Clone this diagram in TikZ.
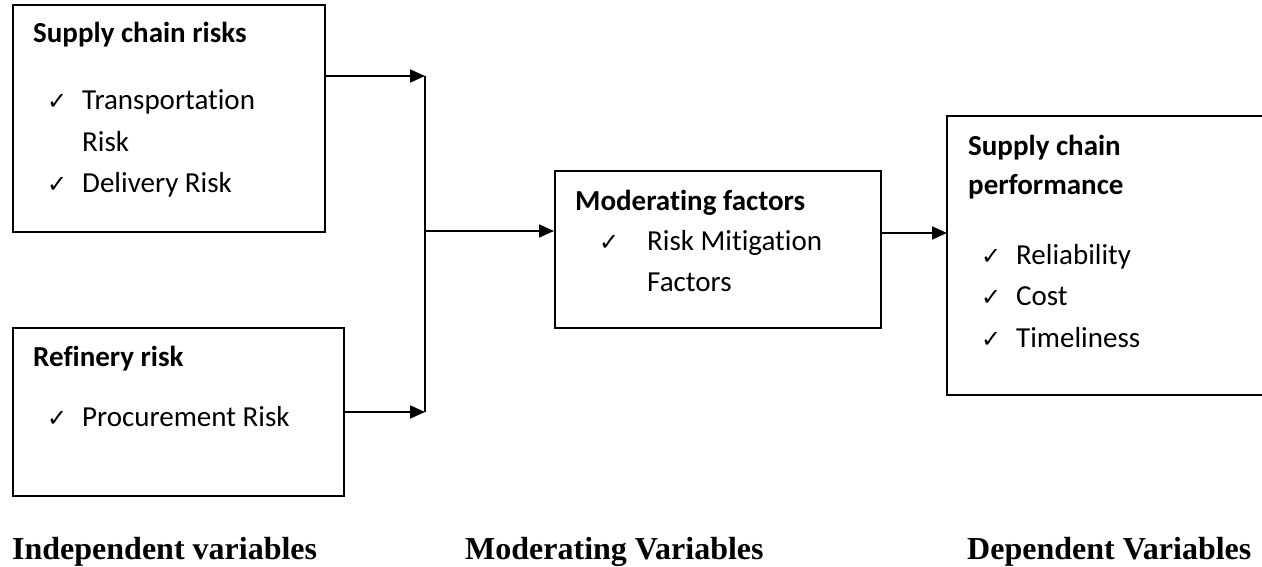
\documentclass[tikz,border=0pt]{standalone}
\usepackage{fontspec}
\setmainfont{Carlito}[Ligatures=NoCommon]
\newfontfamily\timesb{Liberation Serif}
\newfontfamily\symf{DejaVu Sans}
\usetikzlibrary{arrows.meta}
\begin{document}
\begin{tikzpicture}[x=1pt,y=-1pt,
 box/.style={draw,line width=1.8pt,inner sep=0pt,anchor=north west},
 txt/.style={anchor=base west,inner sep=0pt,font=\fontsize{29}{35}\selectfont},
 head/.style={anchor=base west,inner sep=0pt,font=\fontsize{29}{35}\selectfont\bfseries},
 chk/.style={anchor=base west,inner sep=0pt,font=\symf\fontsize{24}{28}\selectfont},
 lab/.style={anchor=base west,inner sep=0pt,font=\timesb\bfseries\fontsize{32}{38}\selectfont},
 conn/.style={line width=1.8pt},
 arr/.style={conn,-{Triangle[length=15pt,width=13pt]}}]
\useasboundingbox (0,0) rectangle (1262,567);
% boxes
\node[box,minimum width=312pt,minimum height=227pt] (b1) at (12,4) {};
\node[box,minimum width=331pt,minimum height=168pt] (b2) at (12,327) {};
\node[box,minimum width=326pt,minimum height=157pt] (b3) at (554,170) {};
\node[box,draw=none,minimum width=330pt,minimum height=277pt] (b4) at (947,116) {};
\draw[line width=1.8pt] (b4.north east) -- (b4.north west) -- (b4.south west) -- (b4.south east);
% box 1 text
\node[head] (t1) at (33,43) {Supply chain risks};
\node[chk] (c11) at (47,110) {✓};
\node[txt] (t11) at (82,110) {Transportation};
\node[txt] (t12) at (82,152) {Risk};
\node[chk] (c12) at (47,193) {✓};
\node[txt] (t13) at (82,193) {Delivery Risk};
% box 2 text
\node[head] (t2) at (33,366) {Refinery risk};
\node[chk] (c21) at (47,426) {✓};
\node[txt] (t21) at (82,426) {Procurement Risk};
% box 3 text
\node[head] (t3) at (575,211) {Moderating factors};
\node[chk] (c31) at (599,251) {✓};
\node[txt] (t31) at (647,251) {Risk Mitigation};
\node[txt] (t32) at (647,291) {Factors};
% box 4 text
\node[head] (t4) at (968,156) {Supply chain};
\node[head] (t4b) at (968,194) {performance};
\node[chk] (c41) at (981,264) {✓};
\node[txt] (t41) at (1016,264) {Reliability};
\node[chk] (c42) at (981,305) {✓};
\node[txt] (t42) at (1016,305) {Cost};
\node[chk] (c43) at (981,347) {✓};
\node[txt] (t43) at (1016,347) {Timeliness};
% connectors
\coordinate (j1) at (425,76);
\coordinate (j2) at (425,412);
\coordinate (jm) at (425,231);
\coordinate (j3) at (880,233);
\draw[arr] (b1.east |- j1) -- (j1);
\draw[arr] (b2.east |- j2) -- (j2);
\draw[conn] (j1) -- (j2);
\draw[arr] (jm) -- (b3.west |- jm);
\draw[arr] (j3) -- (b4.west |- j3);
% bottom labels
\node[lab] (l1) at (12,559) {Independent variables};
\node[lab] (l2) at (465,559) {Moderating Variables};
\node[lab] (l3) at (967,559) {Dependent Variables};
\end{tikzpicture}
\end{document}
